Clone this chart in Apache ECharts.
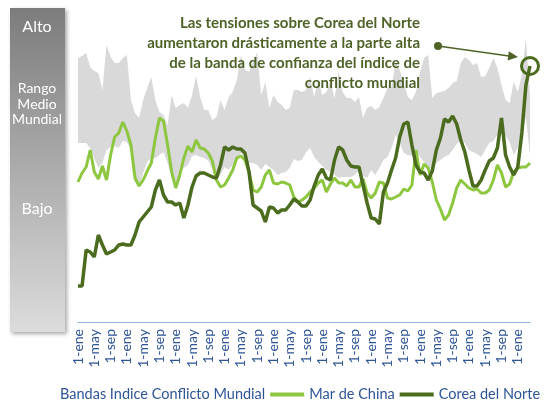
<!DOCTYPE html>
<html>
<head>
<meta charset="utf-8">
<title>Indice de conflicto</title>
<script src="https://cdn.jsdelivr.net/npm/echarts@6/dist/echarts.min.js"></script>
<style>
  html, body { margin: 0; padding: 0; background: #ffffff; }
  #chart-container { width: 550px; height: 401px; }
</style>
</head>
<body>
<div id="chart-container"></div>
<script>

// month names for the category labels (1-ene, 1-may, 1-sep ...)
const monthNames = ['ene','feb','mar','abr','may','jun','jul','ago','sep','oct','nov','dic'];
const firstYear = 2008;
const monthCount = 112;

// band of the world conflict index, lower and upper edge (index units)
const bandLow = [
  179,179,179,174,164,154,159,172,175,176,174,181,180,172,140,135,149,160,164,164,
  167,170,159,144,136,150,154,157,166,167,165,164,161,152,141,147,155,152,157,162,
  169,164,159,159,157,152,158,155,152,147,149,150,154,163,161,162,170,174,165,160,
  156,152,150,147,144,145,145,145,147,152,146,144,152,147,154,162,165,174,187,179,
  169,167,166,171,165,160,155,153,159,162,165,167,172,178,182,179,172,170,168,165,
  172,179,181,187,192,186,180,167,174,194,204,167
];
const bandHigh = [
  264,266,269,255,251,249,232,277,265,259,259,264,267,222,209,204,222,234,245,222,
  210,207,197,227,214,217,219,214,227,246,225,212,212,202,205,222,212,225,230,242,
  267,252,250,260,270,227,240,214,227,220,217,212,214,232,232,230,232,245,225,242,
  227,230,240,224,250,230,224,224,220,225,204,214,216,212,215,224,234,235,260,252,
  239,225,222,230,250,264,267,224,229,230,231,234,239,241,259,265,262,257,259,245,
  246,254,264,254,237,222,219,240,230,247,284,227
];

// Mar de China
const marChina = [
  140,149,155,172,150,143,156,142,167,185,189,200,191,177,144,136,142,151,159,184,
  204,201,177,150,134,147,164,176,170,182,174,173,169,161,142,135,137,144,152,164,
  166,162,150,132,130,135,147,152,139,138,140,139,137,125,120,122,125,130,134,139,
  142,130,138,144,139,139,136,142,135,135,143,129,124,129,140,139,124,123,125,127,
  133,131,137,172,147,158,154,140,122,113,102,107,119,134,142,138,134,132,133,129,
  129,132,142,157,149,135,138,150,154,155,155,159
];

// Corea del Norte
const coreaNorte = [
  36,36,72,70,65,87,77,68,70,72,77,78,77,77,87,100,105,110,115,132,
  142,127,120,120,117,119,104,117,135,146,149,149,147,145,144,157,175,172,175,173,
  173,169,150,117,114,111,100,115,114,109,112,112,117,123,120,116,116,122,136,147,
  153,144,142,162,175,172,162,156,155,155,137,119,104,103,98,130,139,152,164,185,
  198,200,177,157,150,149,142,151,172,184,203,200,206,198,182,170,152,136,136,142,
  152,161,164,174,204,167,155,147,155,189,237,256
];

const colorMar = '#8DC63F';
const colorCorea = '#4B6B1F';
const colorText = '#2F5597';
const colorNote = '#4F6228';

// categories: one per month
var months = [];
for (let i = 0; i < monthCount; i++)
{
   months.push(monthNames[i % 12] + ' ' + (firstYear + Math.floor(i / 12)));
}

// width of the band, stacked on top of the lower edge
var bandWidth = bandHigh.map((v, i) => v - bandLow[i]);

var dom = document.getElementById('chart-container');
var myChart = echarts.init(dom, null, { renderer: 'canvas' });

var option =
{
   animation: false,
   textStyle: { fontFamily: 'Lato' },
   grid: { left: 78, right: 20, top: 22, bottom: 79 },
   xAxis:
   {
      type: 'category',
      data: months,
      boundaryGap: false,
      axisLine: { lineStyle: { color: '#8DB4E2', width: 1 } },
      axisTick: { show: false },
      axisLabel:
      {
         interval: 3,
         rotate: 90,
         margin: 7,
         color: colorText,
         fontSize: 14,
         formatter: value => '1-' + value.split(' ')[0]
      },
      splitLine: { show: false }
   },
   yAxis: { type: 'value', min: 0, max: 300, show: false },
   legend:
   {
      left: 21,
      top: 387,
      width: 620,
      padding: 0,
      itemWidth: 34,
      itemHeight: 4,
      itemGap: 5,
      textStyle: { color: colorText, fontSize: 14.5, fontFamily: 'Lato' },
      data:
      [
         { name: 'Bandas Indice Conflicto Mundial', icon: 'none' },
         { name: 'Mar de China', icon: 'rect' },
         { name: 'Corea del Norte', icon: 'rect' }
      ]
   },
   series:
   [
      {
         name: 'base',
         type: 'line',
         stack: 'band',
         data: bandLow,
         symbol: 'none',
         silent: true,
         lineStyle: { opacity: 0 }
      },
      {
         name: 'Bandas Indice Conflicto Mundial',
         type: 'line',
         stack: 'band',
         data: bandWidth,
         symbol: 'none',
         silent: true,
         lineStyle: { opacity: 0 },
         itemStyle: { color: '#D9D9D9' },
         areaStyle: { color: '#D9D9D9', opacity: 1 }
      },
      {
         name: 'Mar de China',
         type: 'line',
         data: marChina,
         symbol: 'none',
         z: 3,
         itemStyle: { color: colorMar },
         lineStyle: { color: colorMar, width: 3 }
      },
      {
         name: 'Corea del Norte',
         type: 'line',
         data: coreaNorte,
         symbol: 'none',
         z: 4,
         itemStyle: { color: colorCorea },
         lineStyle: { color: colorCorea, width: 3.5 },
         markPoint:
         {
            symbol: 'circle',
            symbolSize: 17,
            silent: true,
            label: { show: false },
            itemStyle: { color: 'rgba(0,0,0,0)', borderColor: colorCorea, borderWidth: 3 },
            data: [ { coord: [monthCount - 1, coreaNorte[monthCount - 1]] } ]
         }
      }
   ],
   graphic:
   [
      // left scale box
      {
         type: 'rect',
         shape: { x: 10, y: 8, width: 55, height: 324 },
         style:
         {
            fill: new echarts.graphic.LinearGradient(0, 0, 0, 1, [
               { offset: 0, color: '#7C7C7C' },
               { offset: 1, color: '#DCDCDC' }
            ]),
            shadowBlur: 4,
            shadowOffsetX: 2,
            shadowOffsetY: 2,
            shadowColor: 'rgba(0,0,0,0.35)'
         }
      },
      {
         type: 'text', x: 37, y: 27,
         style: { text: 'Alto', fill: '#fff', font: '16px Lato', align: 'center', verticalAlign: 'middle' }
      },
      {
         type: 'text', x: 37, y: 104,
         style: { text: 'Rango\nMedio\nMundial', fill: '#fff', font: '14px Lato', lineHeight: 15.5, align: 'center', verticalAlign: 'middle' }
      },
      {
         type: 'text', x: 37, y: 209,
         style: { text: 'Bajo', fill: '#fff', font: '16px Lato', align: 'center', verticalAlign: 'middle' }
      },
      // annotation
      {
         type: 'text', x: 420, y: 13, z: 10,
         style:
         {
            text: 'Las tensiones sobre Corea del Norte\naumentaron drásticamente a la parte alta\nde la banda de confianza del índice de\nconflicto mundial',
            fill: colorNote,
            font: 'bold 15px Lato',
            lineHeight: 20,
            align: 'right',
            verticalAlign: 'top'
         }
      },
      {
         type: 'line', z: 10,
         shape: { x1: 438, y1: 46, x2: 509, y2: 56 },
         style: { stroke: colorNote, lineWidth: 1.5 }
      },
      {
         type: 'circle', z: 10,
         shape: { cx: 438, cy: 46, r: 4 },
         style: { fill: colorNote }
      },
      {
         type: 'polygon', z: 10,
         shape: { points: [[518, 57], [507.6, 60.5], [508.8, 51.2]] },
         style: { fill: colorNote }
      }
   ]
};

myChart.setOption(option);

window.addEventListener('resize', myChart.resize);

</script>
</body>
</html>
